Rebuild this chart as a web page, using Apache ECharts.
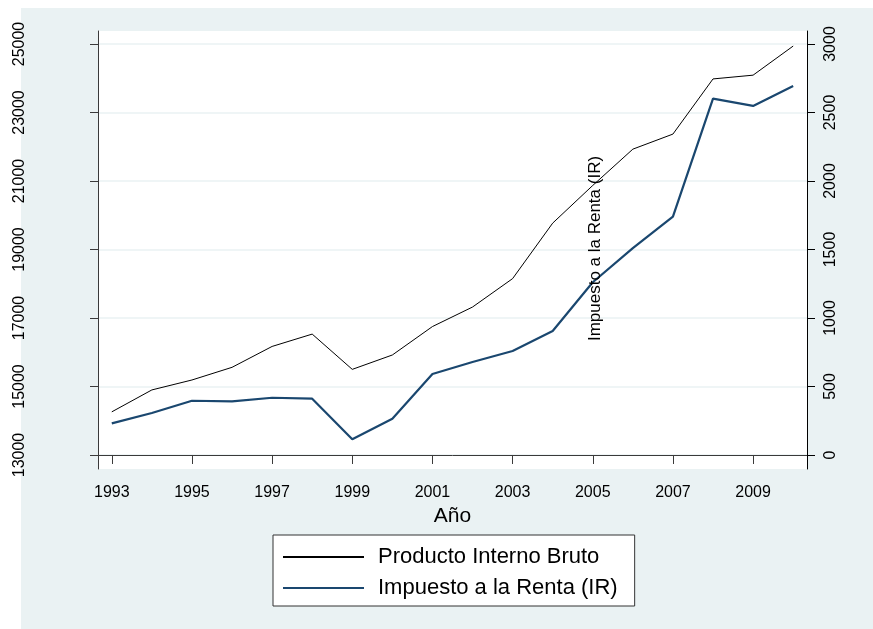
<!DOCTYPE html>
<html>
<head>
<meta charset="utf-8">
<script src="https://cdn.jsdelivr.net/npm/echarts@6/dist/echarts.min.js"></script>
<style>
  html, body { margin: 0; padding: 0; background: #fff; }
  #chart { width: 873px; height: 629px; }
</style>
</head>
<body>
<div id="chart"></div>
<script>
// Años de la serie
const years = [1993, 1994, 1995, 1996, 1997, 1998, 1999, 2000, 2001,
               2002, 2003, 2004, 2005, 2006, 2007, 2008, 2009, 2010];
// Producto Interno Bruto (eje izquierdo)
const pib = [14260, 14900, 15190, 15560, 16170, 16530, 15500, 15920, 16750,
             17320, 18150, 19770, 20870, 21930, 22370, 23980, 24090, 24940];
// Impuesto a la Renta (eje derecho)
const ir = [231, 307, 396, 392, 418, 411, 115, 265, 591,
            679, 759, 905, 1261, 1510, 1740, 2601, 2548, 2694];
// Etiquetas de los ejes
const xTicks = [1993, 1995, 1997, 1999, 2001, 2003, 2005, 2007, 2009];
const yLeftTicks = [13000, 15000, 17000, 19000, 21000, 23000, 25000];
const yRightTicks = [0, 500, 1000, 1500, 2000, 2500, 3000];

const FONT = '"Liberation Sans", Arial, Helvetica, sans-serif';
const BG = '#EAF2F3';
const AXIS = '#3a3a3a';

const chart = echarts.init(document.getElementById('chart'), null, { renderer: 'canvas' });

const pairs = (a, b) => a.map((v, i) => [v, b[i]]);

chart.setOption({
  backgroundColor: BG,
  animation: false,
  textStyle: { fontFamily: FONT },
  graphic: [
    // white margins around the graph region
    { type: 'rect', left: 0, top: 0, shape: { width: 873, height: 8 }, style: { fill: '#fff' }, silent: true },
    { type: 'rect', left: 0, top: 0, shape: { width: 21, height: 629 }, style: { fill: '#fff' }, silent: true },
    {
      type: 'text',
      x: 595, y: 248.5,
      z: 10,
      rotation: Math.PI / 2,
      style: {
        text: 'Impuesto a la Renta (IR)',
        fontFamily: FONT, fontSize: 17, fill: '#000',
        align: 'center', verticalAlign: 'middle'
      },
      silent: true
    }
  ],
  grid: {
    left: 98, right: 66, top: 31, height: 438,
    show: true, backgroundColor: '#fff', borderWidth: 0,
    containLabel: false
  },
  legend: {
    orient: 'vertical',
    left: 273, top: 535,
    padding: [11, 17, 7, 9],
    itemWidth: 81, itemHeight: 22, itemGap: 9,
    backgroundColor: '#fff',
    borderColor: '#333', borderWidth: 1, borderRadius: 0,
    // keep only the line in each key, no marker
    itemStyle: { color: 'rgba(0,0,0,0)', borderColor: 'rgba(0,0,0,0)', borderWidth: 0, opacity: 0 },
    textStyle: { fontFamily: FONT, fontSize: 22, color: '#000', padding: [0, 0, 0, 9], lineHeight: 22 },
    data: ['Producto Interno Bruto', 'Impuesto a la Renta (IR)']
  },
  xAxis: {
    type: 'value',
    min: 1992.656, max: 2010.345,
    name: 'Año', nameLocation: 'middle', nameGap: 32,
    nameTextStyle: { fontFamily: FONT, fontSize: 21, color: '#000' },
    axisLine: { show: true, lineStyle: { color: AXIS, width: 1 } },
    axisTick: { show: true, length: 9, lineStyle: { color: AXIS }, customValues: xTicks },
    axisLabel: { customValues: xTicks, fontSize: 16, color: '#000', margin: 16, fontFamily: FONT,
                 formatter: v => String(v) },
    splitLine: { show: false }
  },
  yAxis: [
    {
      type: 'value', position: 'left',
      min: 12591.2, max: 25379.6,
      axisLine: { show: true, lineStyle: { color: AXIS, width: 1 } },
      axisTick: { show: true, length: 8, lineStyle: { color: AXIS }, customValues: yLeftTicks },
      axisLabel: { customValues: yLeftTicks, rotate: 90, fontSize: 16, color: '#000', margin: 70, fontFamily: FONT,
                   formatter: v => String(v) },
      splitLine: { show: true, lineStyle: { color: BG, width: 1.5 } }
    },
    {
      type: 'value', position: 'right',
      min: -102.2, max: 3094.9,
      axisLine: { show: true, lineStyle: { color: '#000', width: 1 } },
      axisTick: { show: true, length: 8, lineStyle: { color: '#000' }, customValues: yRightTicks },
      axisLabel: { customValues: yRightTicks, rotate: 90, fontSize: 16, color: '#000', margin: 16, fontFamily: FONT,
                   formatter: v => String(v) },
      splitLine: { show: false }
    }
  ],
  series: [
    {
      name: 'Producto Interno Bruto',
      type: 'line', yAxisIndex: 0,
      data: pairs(years, pib),
      symbol: 'none', smooth: false,
      lineStyle: { color: '#000', width: 1 },
      itemStyle: { color: '#000' },
      z: 3
    },
    {
      name: 'Impuesto a la Renta (IR)',
      type: 'line', yAxisIndex: 1,
      data: pairs(years, ir),
      symbol: 'none', smooth: false,
      lineStyle: { color: '#1A476F', width: 2.2 },
      itemStyle: { color: '#1A476F' },
      z: 3
    }
  ]
});
</script>
</body>
</html>
